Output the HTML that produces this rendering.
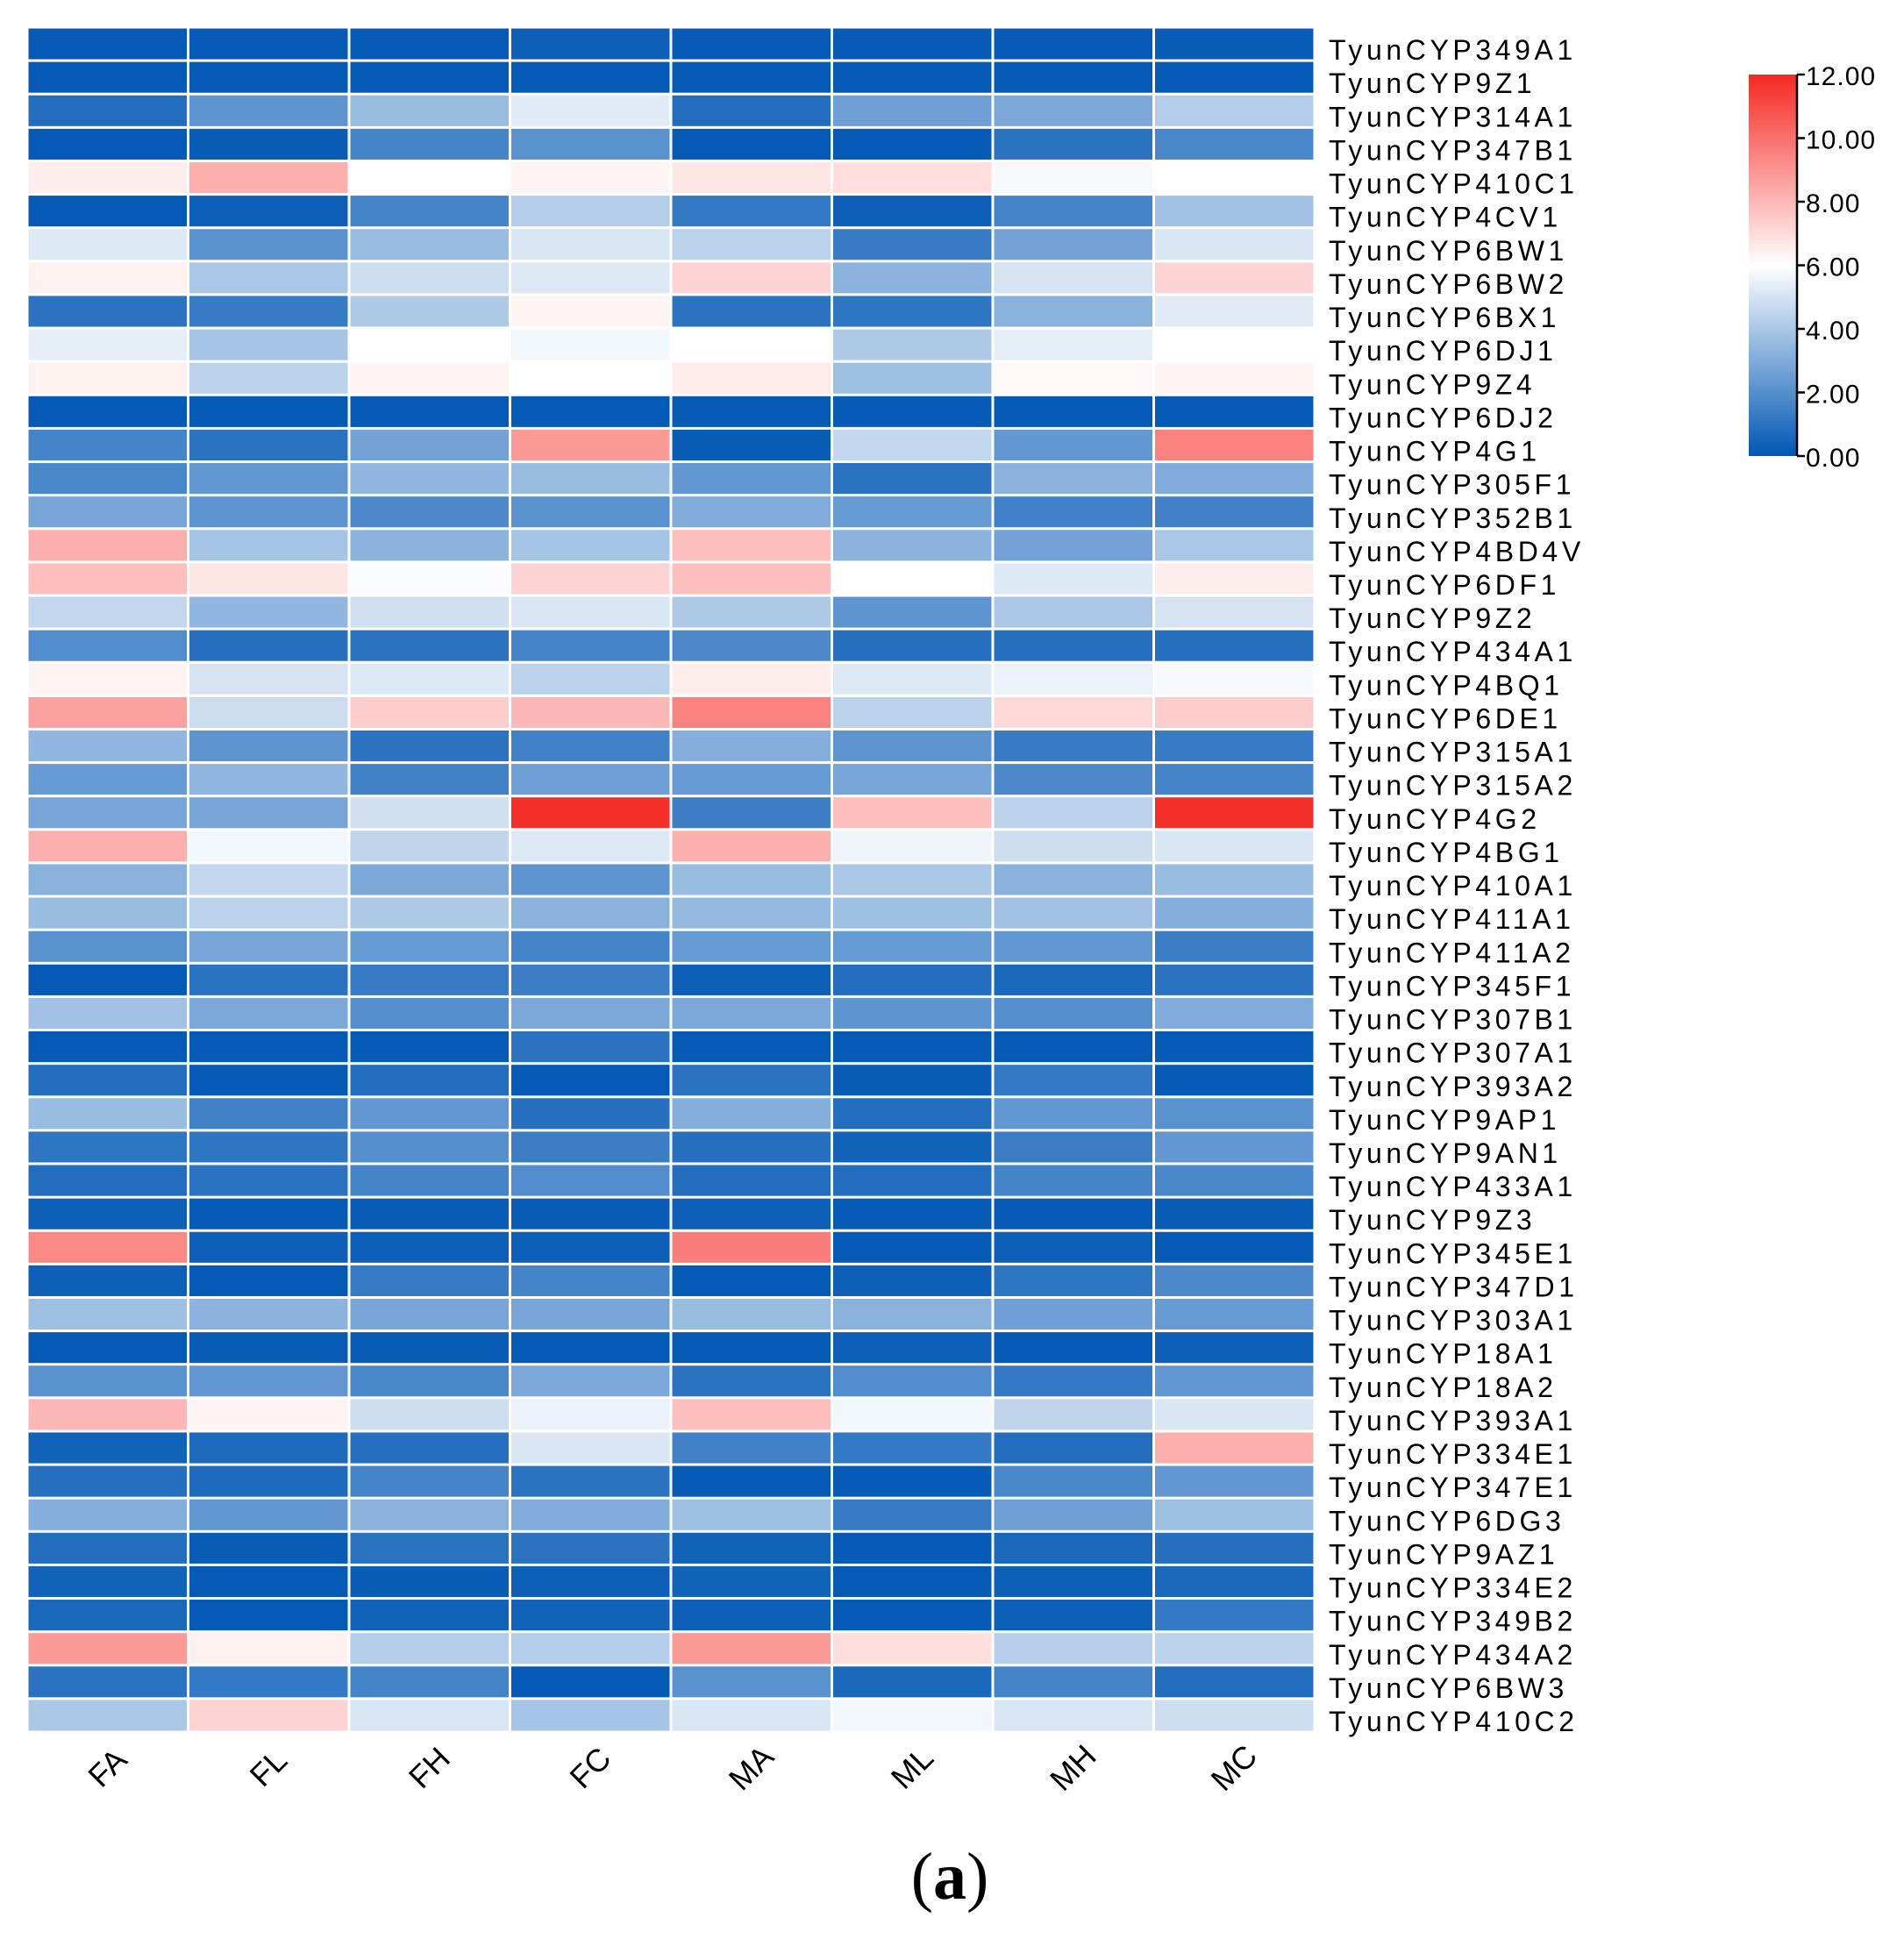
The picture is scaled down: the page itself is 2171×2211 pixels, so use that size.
<!DOCTYPE html>
<html><head><meta charset="utf-8"><style>
html,body{margin:0;padding:0;background:#fff;}
svg{display:block;}
</style></head><body>
<svg id="chart" width="2171" height="2211" xmlns="http://www.w3.org/2000/svg" font-family="Liberation Sans, sans-serif">
<g id="cells"></g>
<g id="rowlabels"></g>
<g id="collabels"></g>
<g id="legend"></g>
<text x="1083" y="2165" text-anchor="middle" font-family="Liberation Serif, serif" font-size="76">(<tspan font-weight="bold">a</tspan>)</text>
</svg>
<script>
const columns = ["FA","FL","FH","FC","MA","ML","MH","MC"];
const genes = ["TyunCYP349A1","TyunCYP9Z1","TyunCYP314A1","TyunCYP347B1","TyunCYP410C1","TyunCYP4CV1","TyunCYP6BW1","TyunCYP6BW2","TyunCYP6BX1","TyunCYP6DJ1","TyunCYP9Z4","TyunCYP6DJ2","TyunCYP4G1","TyunCYP305F1","TyunCYP352B1","TyunCYP4BD4V","TyunCYP6DF1","TyunCYP9Z2","TyunCYP434A1","TyunCYP4BQ1","TyunCYP6DE1","TyunCYP315A1","TyunCYP315A2","TyunCYP4G2","TyunCYP4BG1","TyunCYP410A1","TyunCYP411A1","TyunCYP411A2","TyunCYP345F1","TyunCYP307B1","TyunCYP307A1","TyunCYP393A2","TyunCYP9AP1","TyunCYP9AN1","TyunCYP433A1","TyunCYP9Z3","TyunCYP345E1","TyunCYP347D1","TyunCYP303A1","TyunCYP18A1","TyunCYP18A2","TyunCYP393A1","TyunCYP334E1","TyunCYP347E1","TyunCYP6DG3","TyunCYP9AZ1","TyunCYP334E2","TyunCYP349B2","TyunCYP434A2","TyunCYP6BW3","TyunCYP410C2"];
const values = [
[0.1,0.1,0.1,0.3,0.1,0.1,0.1,0.2],
[0.1,0.1,0.1,0.1,0.1,0.1,0.1,0.1],
[0.8,2.2,3.6,5.3,0.8,2.6,2.9,4.2],
[0.1,0.2,1.6,2.1,0.1,0.1,1.0,1.7],
[6.5,8.2,6.0,6.3,6.7,6.9,5.8,6.0],
[0.1,0.3,1.6,4.2,1.2,0.3,1.6,3.8],
[5.2,2.1,3.6,5.1,4.4,1.3,2.7,5.1],
[6.4,4.0,4.8,5.2,7.2,3.3,5.0,7.2],
[1.0,1.3,4.1,6.3,1.0,1.1,3.2,5.3],
[5.4,3.9,6.0,5.7,6.0,4.1,5.4,6.0],
[6.4,4.4,6.3,6.0,6.6,3.7,6.2,6.3],
[0.1,0.1,0.1,0.1,0.1,0.1,0.1,0.1],
[1.6,1.0,2.7,8.8,0.2,4.6,2.3,9.5],
[1.7,2.3,3.4,3.6,2.3,1.0,3.3,3.0],
[2.8,2.2,1.8,2.1,3.0,2.4,1.5,1.5],
[8.2,3.9,3.3,3.9,7.8,3.3,2.7,4.0],
[7.8,6.7,5.9,7.2,7.8,6.0,5.2,6.5],
[4.6,3.4,4.9,5.1,4.1,2.2,4.0,5.0],
[1.9,0.9,1.0,1.6,1.8,0.9,0.9,0.9],
[6.3,5.0,5.2,4.4,6.5,5.2,5.5,5.8],
[8.6,4.8,7.4,8.0,9.5,4.4,7.1,7.4],
[3.4,2.2,1.0,1.5,3.1,2.2,1.3,1.3],
[2.4,3.4,1.5,2.6,2.4,2.8,1.8,1.6],
[2.8,2.8,4.9,11.8,1.4,7.8,4.4,11.8],
[8.2,5.7,4.5,5.2,8.2,5.6,4.8,5.1],
[3.2,4.6,2.9,2.2,3.6,4.0,3.2,3.6],
[3.6,4.4,4.1,3.2,3.5,3.7,3.8,3.1],
[2.1,2.8,2.4,1.6,2.4,2.4,2.3,1.4],
[0.1,1.0,1.3,1.4,0.3,0.8,0.6,1.0],
[3.8,2.9,2.0,2.9,2.9,2.2,2.0,3.0],
[0.1,0.1,0.1,1.0,0.1,0.1,0.1,0.1],
[0.8,0.1,0.8,0.1,1.0,0.2,1.2,0.1],
[3.6,1.5,2.3,0.9,3.1,0.8,2.3,2.1],
[1.1,1.1,2.0,1.4,0.9,0.4,1.4,2.3],
[0.8,1.0,1.6,1.9,0.8,0.8,1.6,1.7],
[0.3,0.1,0.2,0.2,0.3,0.1,0.1,0.2],
[9.3,0.3,0.3,0.3,9.6,0.1,0.3,0.1],
[0.3,0.1,1.3,1.6,0.1,0.3,1.1,1.8],
[3.7,3.3,2.8,2.8,3.6,3.2,2.6,2.4],
[0.1,0.2,0.2,0.1,0.1,0.3,0.1,0.3],
[2.1,2.3,1.7,2.9,1.0,1.9,1.2,2.3],
[8.0,6.3,4.8,5.5,7.8,5.7,4.5,5.1],
[0.4,0.7,0.9,5.1,1.5,1.2,0.8,8.2],
[0.9,0.7,1.6,1.0,0.1,0.1,1.7,2.3],
[3.1,2.3,3.2,3.0,3.7,1.3,2.6,3.7],
[0.8,0.2,1.0,1.0,0.4,0.1,0.6,0.9],
[0.4,0.1,0.2,0.3,0.4,0.1,0.3,0.6],
[0.6,0.1,0.4,0.4,0.3,0.1,0.3,1.2],
[8.8,6.4,4.2,4.2,8.8,6.9,4.3,4.4],
[1.0,1.2,1.6,0.1,2.1,0.6,1.6,0.8],
[4.0,7.2,5.1,3.9,5.1,5.7,5.1,4.8]
];
const legendTicks = [0,2,4,6,8,10,12];
const legendTickLabels = ["0.00","2.00","4.00","6.00","8.00","10.00","12.00"];

const NS = "http://www.w3.org/2000/svg";
const X0 = 31, X1 = 1499, Y0 = 31, Y1 = 1975;
const colW = (X1 - X0) / columns.length;
const rowH = (Y1 - Y0) / genes.length;
const xPos = i => X0 + i * colW;
const yPos = j => Y0 + j * rowH;
const VMIN = 0, VMAX = 12;
function color(v){
  const t = Math.max(0, Math.min(1, (v - VMIN) / (VMAX - VMIN)));
  const lo=[0,87,180], mid=[255,255,255], hi=[245,40,35];
  let a,b,f;
  if(t<0.5){a=lo;b=mid;f=t/0.5;}else{a=mid;b=hi;f=(t-0.5)/0.5;}
  const c=a.map((x,k)=>Math.round(x+(b[k]-x)*f));
  return `rgb(${c[0]},${c[1]},${c[2]})`;
}
function mk(tag, attrs){const e=document.createElementNS(NS,tag);for(const k in attrs)e.setAttribute(k,attrs[k]);return e;}

const cells = document.getElementById('cells');
values.forEach((row,j)=>{
  row.forEach((v,i)=>{
    const r = mk('rect',{x:xPos(i)+1.5,y:yPos(j)+1.5,width:colW-3,height:rowH-3,fill:color(v)});
    
    
    cells.appendChild(r);
  });
});
const rl = document.getElementById('rowlabels');
genes.forEach((g,j)=>{
  const t = mk('text',{x:1515,y:yPos(j+1)-1,'font-size':32,'letter-spacing':4.6,fill:'#000'});
  t.textContent = g;
  
  
  rl.appendChild(t);
});
const cl = document.getElementById('collabels');
columns.forEach((c,i)=>{
  const cx = xPos(i)+colW/2, cy = 2016;
  const t = mk('text',{x:cx,y:cy+12,'text-anchor':'middle','font-size':36,fill:'#000',transform:`rotate(-45 ${cx} ${cy})`});
  t.textContent = c;
  
  
  cl.appendChild(t);
});
// legend
const lg = document.getElementById('legend');
const LX0=1994, LX1=2048, LY0=85, LY1=520;
const defs = mk('defs',{});
const grad = mk('linearGradient',{id:'cbar',x1:0,y1:1,x2:0,y2:0});
for(let k=0;k<=12;k++){const s=mk('stop',{offset:(k/12),'stop-color':color(VMIN+(VMAX-VMIN)*k/12)});grad.appendChild(s);}
defs.appendChild(grad);lg.appendChild(defs);
const bar = mk('rect',{x:LX0,y:LY0,width:LX1-LX0,height:LY1-LY0,fill:'url(#cbar)'});


lg.appendChild(bar);
const ax = mk('line',{x1:LX1+1,y1:LY0,x2:LX1+1,y2:LY1,stroke:'#000','stroke-width':2.5});


lg.appendChild(ax);
const ly = v => LY1 - (v-VMIN)/(VMAX-VMIN)*(LY1-LY0);
legendTicks.forEach((v,k)=>{
  const y = ly(v);
  const tk = mk('line',{x1:LX1+1,y1:y,x2:LX1+10,y2:y,stroke:'#000','stroke-width':2.5});
  
  
  lg.appendChild(tk);
  const t = mk('text',{x:LX1+11,y:y+12,'font-size':30,fill:'#000','letter-spacing':1});
  t.textContent = legendTickLabels[k];
  
  
  lg.appendChild(t);
});
</script>
</body></html>
